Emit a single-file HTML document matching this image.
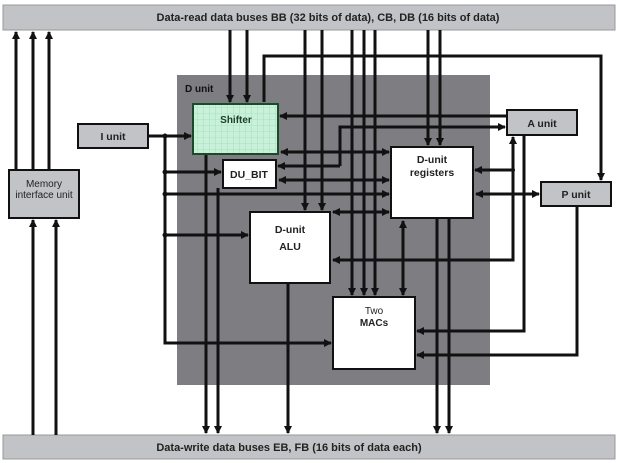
<!DOCTYPE html>
<html><head><meta charset="utf-8"><style>
html,body{margin:0;padding:0;background:#fff}
svg{display:block}
text{font-family:"Liberation Sans",sans-serif;font-weight:bold;fill:#222}
</style></head><body>
<svg width="623" height="463" viewBox="0 0 623 463" xmlns="http://www.w3.org/2000/svg">
<defs>
<pattern id="g" width="6" height="6" patternUnits="userSpaceOnUse">
<rect width="6" height="6" fill="#c9f0d9"/>
<path d="M6 0V6M0 6H6" stroke="#8fd6ad" stroke-width="0.6"/>
</pattern>
<marker id="a" markerWidth="8" markerHeight="8" refX="7" refY="4" orient="auto" markerUnits="userSpaceOnUse">
<path d="M0 0L8 4L0 8Z" fill="#111"/></marker>
<marker id="s" markerWidth="8" markerHeight="8" refX="1" refY="4" orient="auto" markerUnits="userSpaceOnUse">
<path d="M8 0L0 4L8 8Z" fill="#111"/></marker>
</defs>
<rect x="3" y="5" width="612" height="25" fill="#c2c3c7" stroke="#999" stroke-width="1"/>
<text x="328" y="21" font-size="11" text-anchor="middle">Data-read data buses BB (32 bits of data), CB, DB (16 bits of data)</text>
<rect x="3" y="435" width="612" height="24" fill="#c2c3c7" stroke="#999" stroke-width="1"/>
<text x="289" y="451" font-size="11" text-anchor="middle">Data-write data buses EB, FB (16 bits of data each)</text>
<rect x="177" y="75" width="313" height="310" fill="#7d7d82"/>
<text x="185" y="92" font-size="10" style="fill:#111">D unit</text>

<g stroke="#111" stroke-width="3" fill="none">
<!-- memory to top bar -->
<path d="M16 170V32" marker-end="url(#a)"/>
<path d="M33 170V32" marker-end="url(#a)"/>
<path d="M49 170V32" marker-end="url(#a)"/>
<path d="M33 435V220" marker-end="url(#a)"/>
<path d="M56 435V220" marker-end="url(#a)"/>
<!-- top bus down -->
<path d="M230 30V102" marker-end="url(#a)"/>
<path d="M247 30V102" marker-end="url(#a)"/>
<path d="M305 30V210" marker-end="url(#a)"/>
<path d="M322 30V210" marker-end="url(#a)"/>
<path d="M352 30V295" marker-end="url(#a)"/>
<path d="M364 30V295" marker-end="url(#a)"/>
<path d="M375 30V295" marker-end="url(#a)"/>
<path d="M428 30V145" marker-end="url(#a)"/>
<path d="M440 30V145" marker-end="url(#a)"/>
<path d="M264 102V56H601V180" marker-end="url(#a)"/>
<!-- I unit trunk -->
<path d="M148 136H191" marker-end="url(#a)"/>
<path d="M165 136V343H331" marker-end="url(#a)"/>
<path d="M165 172H221" marker-end="url(#a)"/>
<path d="M165 194H389" marker-end="url(#a)"/>
<path d="M165 235H248" marker-end="url(#a)"/>
<!-- shifter/A unit -->
<path d="M507 116H280" marker-end="url(#a)"/>
<path d="M340 166V127H505" marker-end="url(#a)"/>
<path d="M340 166H278" marker-end="url(#a)"/>
<path d="M281 152H389" marker-start="url(#s)" marker-end="url(#a)"/>
<path d="M279 180H389" marker-start="url(#s)" marker-end="url(#a)"/>
<path d="M333 212H389" marker-start="url(#s)" marker-end="url(#a)"/>
<!-- shifter outputs -->
<path d="M206 154V433" marker-end="url(#a)"/>
<path d="M218 188V433" marker-end="url(#a)"/>
<path d="M288 283V433" marker-end="url(#a)"/>
<path d="M437 218V433" marker-end="url(#a)"/>
<path d="M449 218V433" marker-end="url(#a)"/>
<path d="M403 221V295" marker-start="url(#s)" marker-end="url(#a)"/>
<!-- A unit -->
<path d="M333 260H513V137" marker-start="url(#s)" marker-end="url(#a)"/>
<path d="M513 170H475" marker-end="url(#a)"/>
<path d="M524 135V331H417" marker-end="url(#a)"/>
<path d="M476 194H539" marker-start="url(#s)" marker-end="url(#a)"/>
<path d="M577 206V355H417" marker-end="url(#a)"/>
</g>
<g fill="#111">
<circle cx="165" cy="136" r="2.5"/><circle cx="165" cy="172" r="2.5"/><circle cx="165" cy="194" r="2.5"/><circle cx="165" cy="235" r="2.5"/><circle cx="513" cy="170" r="2"/>
</g>

<g stroke="#111" stroke-width="2">
<rect x="193" y="104" width="85" height="50" fill="url(#g)" stroke="#1a4a2a"/>
<rect x="223" y="160" width="53" height="28" fill="#fff"/>
<rect x="391" y="147" width="82" height="71" fill="#fff"/>
<rect x="250" y="212" width="80" height="71" fill="#fff"/>
<rect x="333" y="297" width="82" height="72" fill="#fff"/>
<rect x="507" y="110" width="70" height="25" fill="#c2c3c7"/>
<rect x="541" y="182" width="70" height="24" fill="#c2c3c7"/>
<rect x="78" y="124" width="70" height="24" fill="#c2c3c7"/>
<rect x="9" y="170" width="70" height="48" fill="#c2c3c7"/>
</g>
<text x="236" y="123" font-size="10" text-anchor="middle" style="fill:#1f3d2a">Shifter</text>
<text x="249" y="178" font-size="10.5" text-anchor="middle">DU_BIT</text>
<text x="432" y="163" font-size="10.5" text-anchor="middle">D-unit</text>
<text x="432" y="176" font-size="10.5" text-anchor="middle">registers</text>
<text x="290" y="233" font-size="10.5" text-anchor="middle">D-unit</text>
<text x="290" y="250" font-size="10.5" text-anchor="middle">ALU</text>
<text x="374" y="314" font-size="10" text-anchor="middle" style="font-weight:normal">Two</text>
<text x="374" y="326" font-size="10" text-anchor="middle">MACs</text>
<text x="542" y="127" font-size="10.5" text-anchor="middle">A unit</text>
<text x="576" y="198" font-size="10.5" text-anchor="middle">P unit</text>
<text x="113" y="140" font-size="10.5" text-anchor="middle">I unit</text>
<text x="44" y="187" font-size="10" text-anchor="middle" style="font-weight:normal">Memory</text>
<text x="44" y="198" font-size="10" text-anchor="middle" style="font-weight:normal">interface unit</text>
</svg>
</body></html>
